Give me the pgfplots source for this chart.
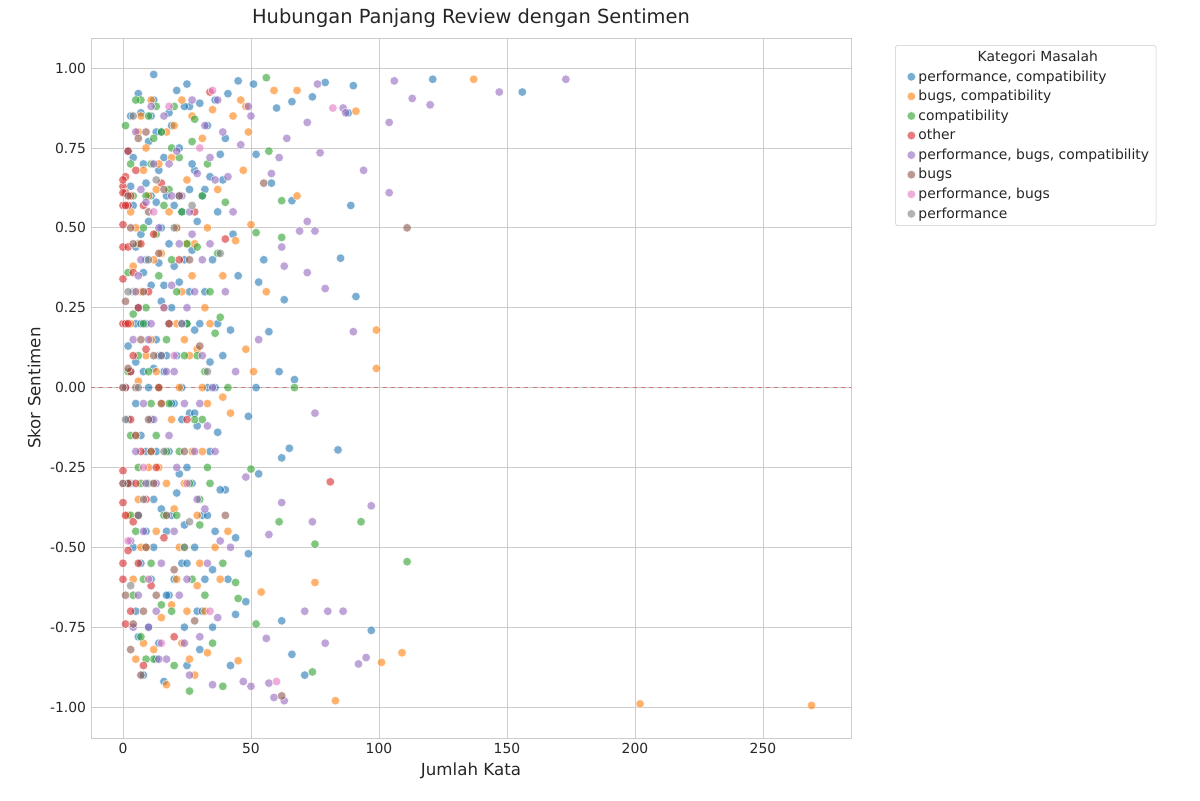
\documentclass[border=0pt]{standalone}
\usepackage{fontspec}
\setmainfont{DejaVu Sans}
\usepackage{pgfplots}
\pgfplotsset{compat=1.18}
\definecolor{c1}{HTML}{1F77B4}\definecolor{c2}{HTML}{FF7F0E}\definecolor{c3}{HTML}{2CA02C}
\definecolor{c4}{HTML}{D62728}\definecolor{c5}{HTML}{9467BD}\definecolor{c6}{HTML}{8C564B}
\definecolor{c7}{HTML}{E377C2}\definecolor{c8}{HTML}{7F7F7F}\definecolor{gl}{HTML}{CCCCCC}
\definecolor{tx}{HTML}{262626}
\pgfplotsset{pt/.style={#1, only marks, mark=*, mark size=3.1pt, mark options={fill=#1, fill opacity=0.6, draw=white, draw opacity=0.8, line width=0.4pt}}}
\begin{document}
\begin{tikzpicture}
\begin{axis}[name=ax, scale only axis, width=547.2pt, height=504pt,
 xmin=-12.5, xmax=284.4, ymin=-1.097, ymax=1.094,
 xtick={0,50,100,150,200,250}, ytick={-1,-0.75,-0.5,-0.25,0,0.25,0.5,0.75,1},
 yticklabel style={/pgf/number format/.cd,fixed,fixed zerofill,precision=2},
 /pgf/number format/assume math mode=true,
 grid=major, major grid style={gl, line width=0.6pt}, axis line style={gl},
 tick style={draw=none}, ticklabel style={font=\fontsize{10}{12}\selectfont, text=tx},
 title={Hubungan Panjang Review dengan Sentimen}, title style={font=\fontsize{14}{16}\selectfont, text=tx, yshift=-2pt},
 xlabel={Jumlah Kata}, ylabel={Skor Sentimen},
 label style={font=\fontsize{12}{14}\selectfont, text=tx},
 legend cell align=left,
 legend style={at={(1.058,0.99)}, anchor=north west, draw=gl, rounded corners=2pt, font=\fontsize{10}{12}\selectfont, text=tx, row sep=1pt},
]
\addlegendimage{empty legend}\addlegendentry{\hspace{1.5cm}Kategori Masalah}
\addplot[pt=c1] coordinates {(12,0.98)(25,0.95)(45,0.96)(51,0.95)(79,0.955)(90,0.945)(121,0.965)(156,0.925)(74,0.91)(88,0.86)(89,0.57)(85,0.405)(91,0.285)(84,-0.195)(97,-0.76)(71,-0.9)(66,-0.835)(62,-0.73)(65,-0.19)(62,-0.22)(53,-0.27)(49,-0.09)(52,0)(61,0.05)(67,0.025)(57,0.175)(63,0.275)(55,0.4)(53,0.33)(66,0.585)(58,0.64)(52,0.73)(60,0.875)(66,0.895)(44,-0.47)(48,-0.67)(44,-0.71)(49,-0.52)(42,-0.87)(40,-0.32)(37,-0.14)
(2,0.74)(3,0.63)(4,0.57)(5,0.44)(6,0.92)(7,0.86)(8,0.36)(9,0.2)(10,0)(11,-0.1)(12,0.9)(13,0.8)(14,0.68)(15,0.5)(16,0.32)(17,0.1)(18,-0.2)(19,-0.4)(20,-0.6)(21,0.93)(22,0.75)(23,0.55)(24,0.4)(25,0.2)(26,-0.08)(27,-0.3)(28,-0.5)(29,-0.7)(30,0.89)(31,0.6)(32,0.3)(33,0)(34,-0.2)(35,0.4)(36,-0.45)(37,0.55)(38,0.73)(39,0.65)(41,0.92)(43,0.48)(45,0.35)(3,-0.3)(4,-0.5)(5,-0.7)(6,-0.78)(7,-0.15)(8,0.05)(9,0.64)(10,0.77)(11,-0.6)(12,-0.35)(13,0.15)(14,-0.8)(15,0.27)(16,-0.92)(17,0.6)(18,0.45)(19,0.82)(20,-0.05)(21,0.1)(22,-0.27)(23,-0.55)(24,-0.75)(25,-0.87)(26,0.62)(27,0.43)(28,0.18)(29,-0.12)(31,-0.4)(32,-0.6)(34,0.66)(36,0.0)(38,-0.32)(40,0.78)(42,0.18)(13,0.58)(8,-0.9)(11,0.32)(6,0.25)(1,0)(2,0.13)(2,-0.1)(4,0.3)(5,0.08)(7,0.48)(9,-0.45)(10,-0.75)(12,0.06)(14,0.39)(16,0.72)(18,-0.65)(20,0.57)(22,0.33)(24,-0.43)(26,0.88)(28,0.68)(30,-0.82)(33,0.82)(35,-0.57)(37,0.2)
(3,0.85)(4,0.72)(5,0.2)(6,-0.4)(7,-0.55)(8,0.7)(9,-0.2)(10,0.52)(11,0.85)(12,-0.5)(13,-0.2)(14,0.1)(15,-0.38)(16,0.05)(17,-0.65)(18,0.86)(19,0.25)(20,0.38)(21,-0.33)(22,0.6)(23,-0.1)(24,0.88)(25,-0.55)(26,0.3)(27,0.7)(28,-0.08)(29,0.52)(30,0.2)(31,-0.7)(32,0.62)(33,-0.4)(34,0.08)(35,-0.75)(36,0.9)(39,0.1)(41,-0.6)(3,0.05)(5,-0.05)(7,0.2)(9,0.4)(11,0.6)(13,-0.85)(15,0.8)(17,-0.45)(19,-0.05)(21,0.5)(23,0.0)(25,-0.25)};
\addlegendentry{performance, compatibility}
\addplot[pt=c2] coordinates {(269,-0.995)(202,-0.99)(137,0.965)(91,0.865)(99,0.18)(99,0.06)(109,-0.83)(101,-0.86)(83,-0.98)(75,-0.61)(68,0.6)(68,0.93)(59,0.93)(56,0.3)(50,0.51)(51,0.05)(45,-0.855)(42,-0.08)(39,-0.03)(33,-0.05)(48,0.12)(54,-0.64)
(3,0.2)(4,-0.6)(5,0.5)(6,-0.35)(7,0.85)(8,-0.8)(9,0.1)(10,0.6)(11,-0.2)(12,0.4)(13,-0.45)(14,0.7)(15,-0.72)(16,0.25)(17,-0.93)(18,0.55)(19,-0.1)(20,0.82)(21,-0.6)(22,0.0)(23,0.9)(24,-0.3)(25,0.65)(26,-0.85)(27,0.35)(28,-0.9)(29,0.12)(30,-0.55)(31,0.78)(32,-0.7)(33,0.5)(34,0.2)(35,0.87)(36,-0.5)(37,0.62)(38,-0.6)(39,0.35)(41,-0.45)(43,0.85)(44,0.46)(46,0.9)(47,0.68)(48,0.88)(49,0.8)(5,-0.15)(7,0.3)(9,-0.5)(11,0.9)(13,0.05)(15,0.42)(17,-0.3)(19,0.72)(21,0.2)(23,-0.8)(25,0.45)(27,-0.2)(29,-0.62)(31,0.0)(33,-0.83)(12,-0.82)(10,-0.25)(8,0.68)(6,0.02)(4,0.38)(20,-0.38)(24,0.15)(28,0.45)(32,0.25)
(2,-0.4)(3,0.55)(5,-0.85)(7,-0.5)(9,0.75)(11,0.15)(13,0.62)(15,-0.05)(17,0.8)(19,-0.68)(21,0.5)(23,0.3)(25,-0.7)(27,0.85)(29,-0.4)(31,-0.2)(6,0.8)(14,-0.25)(22,-0.5)(26,0.1)};
\addlegendentry{bugs, compatibility}
\addplot[pt=c3] coordinates {(56,0.97)(57,0.74)(62,0.47)(62,0.585)(93,-0.42)(111,-0.545)(75,-0.49)(74,-0.89)(61,-0.42)(52,-0.74)(39,-0.935)(67,0)(50,-0.255)(52,0.485)
(1,0.82)(2,0.36)(3,-0.15)(4,0.6)(5,-0.45)(6,0.1)(7,0.9)(8,-0.6)(9,0.25)(10,-0.3)(11,0.7)(12,-0.85)(13,0.48)(14,0.0)(15,0.8)(16,-0.4)(17,0.15)(18,0.62)(19,-0.7)(20,0.88)(21,0.3)(22,-0.2)(23,0.55)(24,-0.5)(25,0.2)(26,-0.95)(27,0.77)(28,-0.1)(29,0.44)(30,-0.35)(31,0.6)(32,-0.65)(33,0.7)(34,0.3)(35,-0.8)(37,0.42)(38,0.22)(39,-0.55)(40,0.58)(41,0.0)(44,-0.61)(45,-0.66)(5,0.9)(6,-0.25)(8,0.5)(9,-0.85)(10,0.05)(11,-0.55)(12,0.78)(13,-0.15)(14,0.35)(15,-0.68)(16,0.57)(18,-0.05)(19,0.4)(20,-0.87)(22,0.72)(24,0.1)(26,-0.3)(28,0.84)(30,-0.43)(32,0.05)(34,-0.3)(36,0.17)(3,-0.4)(2,0.05)(4,0.23)(7,-0.78)
(3,0.7)(5,0.3)(7,-0.3)(9,0.6)(11,-0.05)(13,0.88)(15,0.1)(17,-0.2)(19,0.75)(21,-0.4)(23,0.2)(25,0.45)(27,-0.6)(29,0.1)(31,-0.1)(33,-0.25)(4,-0.65)(6,0.45)(8,0.2)(10,0.85)};
\addlegendentry{compatibility}
\addplot[pt=c4] coordinates {(81,-0.295)(40,0.465)(34,0.925)
(0,0.63)(0,0.57)(0,0.51)(0,0.44)(0,0.34)(0,0.2)(0,0)(0,-0.26)(0,-0.3)(0,-0.36)(0,-0.6)(0,-0.55)(1,0.66)(1,0.61)(1,0.2)(1,-0.4)(1,-0.74)(1,0)(2,0.57)(2,0.44)(2,-0.3)(2,-0.51)(2,0.74)(3,0.6)(3,-0.1)(3,0.05)(3,-0.7)(4,0.36)(4,-0.42)(4,0.1)(5,0.68)(5,-0.3)(6,0.25)(6,-0.55)(7,0.45)(7,-0.2)(8,0.57)(8,-0.87)(9,0.12)(9,-0.35)(10,0.3)(11,-0.62)(12,0.48)(13,-0.25)(14,0.0)(15,0.64)(16,-0.47)(18,0.2)(20,-0.78)(22,0.4)(25,-0.1)(28,0.55)(2,0.2)(1,0.57)(0,0.61)(0,0.65)};
\addlegendentry{other}
\addplot[pt=c5] coordinates {(173,0.965)(147,0.925)(113,0.905)(106,0.96)(120,0.885)(104,0.83)(104,0.61)(94,0.68)(72,0.83)(77,0.735)(86,0.875)(90,0.175)(97,-0.37)(79,0.31)(72,0.36)(75,0.49)(72,0.52)(69,0.49)(75,-0.08)(74,-0.42)(79,-0.8)(80,-0.7)(86,-0.7)(71,-0.7)(92,-0.865)(95,-0.845)(63,-0.98)(59,-0.97)(56,-0.785)(57,-0.925)(50,-0.935)(47,-0.92)(62,-0.36)(57,-0.46)(53,0.15)(63,0.38)(62,0.44)(61,0.72)(58,0.67)(64,0.78)(76,0.95)(87,0.86)
(3,-0.48)(4,0.15)(5,0.8)(6,-0.65)(7,0.4)(8,-0.05)(9,0.58)(10,-0.75)(11,0.2)(12,0.7)(13,-0.3)(14,0.5)(15,-0.55)(16,0.85)(17,0.05)(18,-0.15)(19,0.32)(20,-0.45)(21,0.74)(22,-0.65)(23,0.6)(24,-0.05)(25,0.25)(26,-0.9)(27,0.48)(28,-0.2)(29,0.67)(30,-0.78)(31,0.1)(32,0.82)(33,-0.55)(34,0.45)(35,-0.93)(36,0.65)(37,0.9)(38,-0.48)(40,0.3)(41,0.66)(42,-0.5)(43,0.55)(44,0.05)(46,0.76)(48,-0.28)(49,0.88)(50,0.85)(9,-0.3)(11,0.88)(13,-0.7)(15,0.1)(17,-0.85)(19,0.6)(21,-0.25)(23,0.2)(25,-0.6)(27,0.9)(29,-0.35)(31,0.4)(33,-0.12)(35,0.0)(37,-0.72)(5,-0.2)(7,0.62)
(4,-0.75)(6,0.35)(8,-0.45)(10,0.15)(12,-0.1)(14,-0.85)(16,0.25)(18,0.7)(20,0.05)(22,0.45)(24,-0.8)(26,0.55)(28,0.3)(30,-0.05)(32,-0.38)(34,0.72)(36,-0.2)(39,0.8)};
\addlegendentry{performance, bugs, compatibility}
\addplot[pt=c6] coordinates {(111,0.5)(55,0.64)(62,-0.965)(40,-0.4)
(1,0.27)(2,-0.3)(3,0.5)(4,-0.74)(5,0.0)(6,0.78)(7,-0.9)(8,0.3)(9,-0.5)(10,0.55)(11,-0.2)(12,0.1)(13,-0.65)(14,0.42)(15,-0.05)(16,0.62)(17,-0.4)(18,0.2)(20,-0.57)(22,0.6)(24,-0.2)(26,0.4)(28,-0.73)(30,0.13)(2,0.6)(3,-0.82)(4,0.45)(5,-0.15)(6,-0.4)(7,0.15)(8,-0.7)(9,0.8)(10,-0.1)(12,-0.3)(1,-0.65)(2,0.06)};
\addlegendentry{bugs}
\addplot[pt=c7] coordinates {(82,0.875)(60,-0.92)(35,0.93)(2,-0.48)(5,0.3)(8,-0.25)(12,0.55)(15,-0.8)(20,0.1)(25,-0.3)(30,0.75)(34,-0.7)(18,0.88)(10,-0.6)};
\addlegendentry{performance, bugs}
\addplot[pt=c8] coordinates {(0,-0.3)(0,0)(1,-0.1)(2,0.3)(3,-0.62)(4,0.85)(6,0.0)(8,-0.35)(10,0.4)(13,0.65)(16,-0.2)(20,0.5)(24,-0.5)(27,0.57)(33,0.05)(38,0.42)(26,-0.42)};
\addlegendentry{performance}
\addplot[c4, opacity=0.5, dashed, mark=none, forget plot, line width=0.8pt] coordinates {(-12.5,0)(284.4,0)};
\end{axis}
\path ([xshift=-65.5pt,yshift=-44.6pt]ax.south west) rectangle ([xshift=251.3pt,yshift=27.4pt]ax.north east);
\end{tikzpicture}
\end{document}
